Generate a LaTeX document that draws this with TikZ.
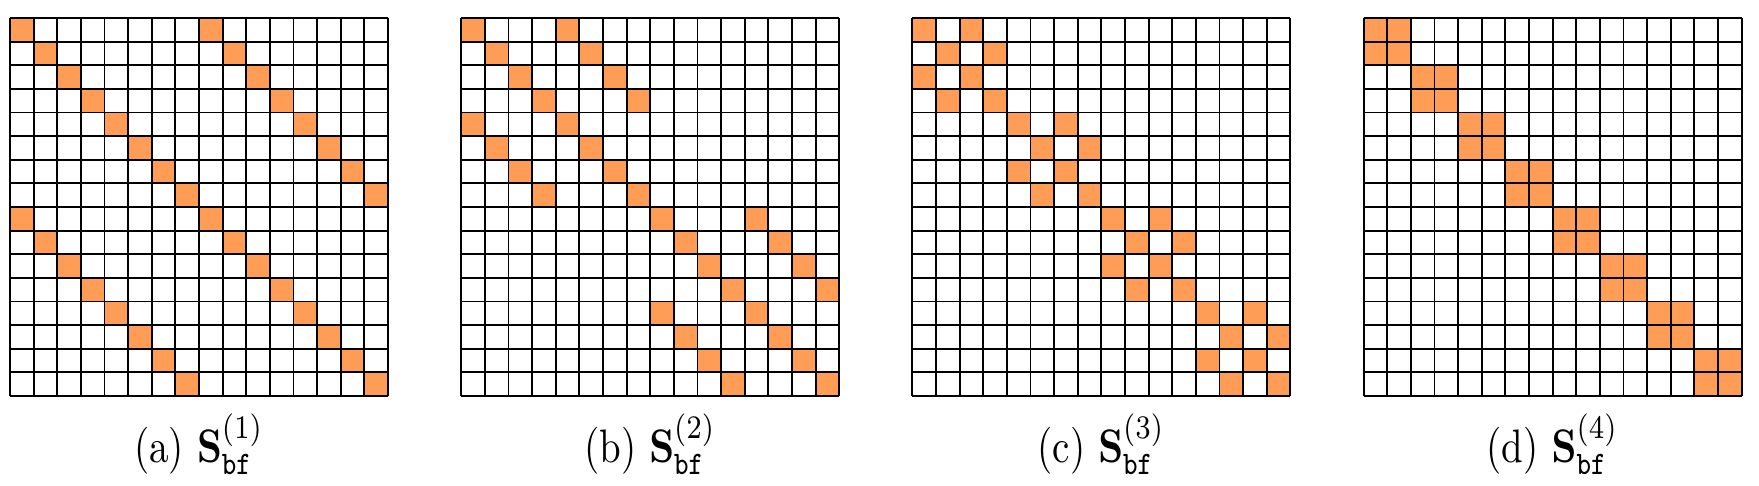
\documentclass[tikz,border=0pt]{standalone}
\definecolor{cellorange}{RGB}{255,157,87}
\tikzset{
  cellfill/.style={fill=cellorange},
  gridline/.style={draw=black,line width=0.4pt},
  capnode/.style={anchor=base,inner sep=0pt,font=\normalsize}
}
\begin{document}
\begin{tikzpicture}[x=0.2128pt,y=-0.2128pt]
\useasboundingbox (0,0) rectangle (1759,486);
\foreach \k/\n/\l [count=\g from 0] in {8/1/a,4/2/b,2/3/c,1/4/d}{
  \pgfmathsetmacro\X{10+451.2*\g}
  \foreach \i in {0,...,15}{
    \pgfmathtruncatemacro\J{mod(floor(\i/\k),2)==0 ? \i+\k : \i-\k}
    \fill[cellfill] (\X+\i*23.625, 18+\i*23.625) rectangle ++(23.625,23.625);
    \fill[cellfill] (\X+\J*23.625, 18+\i*23.625) rectangle ++(23.625,23.625);
  }
  \foreach \m in {0,...,16}{
    \draw[gridline] (\X+\m*23.625,18) -- (\X+\m*23.625,396);
    \draw[gridline] (\X,18+\m*23.625) -- (\X+378,18+\m*23.625);
  }
  \node[capnode] (cap\n) at (\X+189,463) {\scalebox{0.83}[1]{(\l)~$\mathbf{S}_{\mathtt{bf}}^{(\n)}$}};
}
\end{tikzpicture}
\end{document}
